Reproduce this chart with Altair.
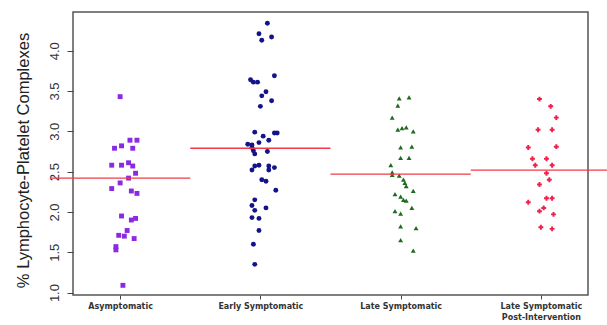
import json

import altair as alt
import pandas as pd

# Categories and their axis labels (multi-line where needed)
groups = ["Asymptomatic", "Early Symptomatic", "Late Symptomatic",
          "Late Symptomatic Post-Intervention"]
tick_labels = [["Asymptomatic"], ["Early Symptomatic"], ["Late Symptomatic"],
               ["Late Symptomatic", "Post-Intervention"]]
y_ticks = [1.0, 1.5, 2.0, 2.5, 3.0, 3.5, 4.0]

# % lymphocyte-platelet complexes per subject, with horizontal jitter (category units)
asym_values = [3.43, 2.89, 2.89, 2.82, 2.79, 2.79, 2.58, 2.58, 2.61, 2.57, 2.48, 2.42, 2.36,
               2.29, 2.26, 2.23, 1.95, 1.90, 1.92, 1.77, 1.71, 1.70, 1.67, 1.57, 1.53, 1.09]
asym_jitter = [0.00, 0.07, 0.12, 0.01, -0.04, 0.09, -0.06, 0.01, 0.06, 0.09, 0.11, 0.06, 0.00,
               -0.06, 0.08, 0.12, 0.01, 0.08, 0.11, 0.05, -0.01, 0.03, 0.10, -0.03, -0.03, 0.02]

early_values = [4.34, 4.21, 4.17, 4.13, 3.69, 3.64, 3.61, 3.61, 3.49, 3.44, 3.38, 3.31,
                2.99, 2.94, 2.98, 2.98, 2.89, 2.86, 2.84, 2.83, 2.80, 2.76, 2.72, 2.75,
                2.58, 2.57, 2.52, 2.57, 2.55, 2.52, 2.40, 2.38, 2.27, 2.15, 2.08, 2.02,
                2.05, 1.93, 1.92, 1.77, 1.60, 1.35]
early_jitter = [0.05, -0.01, 0.08, 0.01, 0.10, -0.07, -0.05, -0.02, 0.04, 0.01, 0.08, 0.00,
                -0.04, 0.02, 0.10, 0.12, 0.06, -0.01, -0.09, -0.06, -0.06, -0.05, -0.04, 0.05,
                -0.01, -0.04, -0.06, 0.06, 0.10, 0.06, 0.01, 0.04, 0.11, -0.04, -0.06, -0.04,
                0.04, -0.06, -0.01, -0.01, -0.05, -0.04]

late_values = [3.41, 3.42, 3.32, 3.17, 3.02, 3.04, 3.05, 3.00, 2.80, 2.81, 2.67, 2.67,
               2.58, 2.49, 2.46, 2.45, 2.40, 2.36, 2.32, 2.26, 2.22, 2.19, 2.15, 2.14,
               2.05, 2.01, 1.98, 1.82, 1.80, 1.65, 1.52]
late_jitter = [-0.01, 0.06, -0.02, -0.06, -0.02, 0.01, 0.04, 0.09, 0.00, 0.08, 0.00, 0.06,
               -0.07, -0.06, -0.06, -0.01, 0.02, 0.03, 0.04, 0.09, -0.04, 0.00, 0.02, 0.04,
               0.08, -0.04, 0.00, 0.00, 0.11, 0.00, 0.09]

post_values = [3.40, 3.31, 3.17, 3.02, 3.02, 2.80, 2.81, 2.66, 2.66, 2.58, 2.58, 2.48,
               2.40, 2.34, 2.17, 2.17, 2.12, 2.05, 2.01, 1.97, 1.81, 1.79]
post_jitter = [-0.01, 0.07, 0.11, -0.02, 0.08, -0.09, 0.11, -0.06, 0.04, -0.04, 0.08, 0.04,
               0.06, -0.01, 0.04, 0.08, -0.09, 0.02, -0.01, 0.09, 0.00, 0.08]

# Group summary levels drawn as horizontal red lines
group_levels = [2.42, 2.79, 2.47, 2.52]

series = [(asym_values, asym_jitter), (early_values, early_jitter),
          (late_values, late_jitter), (post_values, post_jitter)]

rows = []
for i, (name, (vals, jit)) in enumerate(zip(groups, series)):
    for v, j in zip(vals, jit):
        rows.append({"group": name, "pos": i + 1 + j, "value": v})
points_df = pd.DataFrame(rows)

levels_df = pd.DataFrame({
    "group": groups,
    "x0": [i + 0.5 for i in range(len(groups))],
    "x1": [i + 1.5 for i in range(len(groups))],
    "level": group_levels,
})

x_scale = alt.Scale(domain=[0.664, 4.336], nice=False, zero=False)
y_scale = alt.Scale(domain=[0.97, 4.48], nice=False, zero=False)

label_expr = json.dumps(tick_labels) + "[datum.value - 1]"

x_axis = alt.Axis(
    values=[1, 2, 3, 4], labelExpr=label_expr, title=None, grid=False, domain=False,
    tickSize=4, tickColor="#444", labelFont="DejaVu Sans", labelFontSize=8,
    labelFontWeight="bold", labelColor="#333", labelPadding=3, labelLineHeight=11,
    labelFlush=False, labelOverlap=False,
)
y_axis = alt.Axis(
    values=y_ticks, format=".1f", title="% Lymphocyte-Platelet Complexes", grid=False,
    domain=False, tickSize=6, tickColor="#444", labelAngle=-90, labelAlign="center",
    labelBaseline="bottom", labelPadding=6, labelFont="Liberation Sans Narrow, Liberation Sans",
    labelFontSize=13, labelColor="#333", labelFlush=False,
    titleFont="Liberation Sans", titleFontSize=16.5, titleFontWeight="normal",
    titleColor="#222", titleAngle=-90, titleX=-50, titleY=148, titleAlign="center",
    titleBaseline="middle",
)

colors = ["#8a2be2", "#14148a", "#1e6b1e", "#f0204a"]
shapes = ["square", "circle", "triangle-up", "cross"]
sizes = [24, 24, 34, 26]

points = alt.Chart(points_df).mark_point(filled=True, opacity=1, strokeWidth=0).encode(
    x=alt.X("pos:Q", scale=x_scale, axis=x_axis),
    y=alt.Y("value:Q", scale=y_scale, axis=y_axis),
    color=alt.Color("group:N", scale=alt.Scale(domain=groups, range=colors), legend=None),
    shape=alt.Shape("group:N", scale=alt.Scale(domain=groups, range=shapes), legend=None),
    size=alt.Size("group:N", scale=alt.Scale(domain=groups, range=sizes), legend=None),
)

lines = alt.Chart(levels_df).mark_rule(color="#f23a48", strokeWidth=1.3).encode(
    x=alt.X("x0:Q", scale=x_scale),
    x2="x1:Q",
    y=alt.Y("level:Q", scale=y_scale),
)

chart = alt.layer(points, lines).properties(
    width=515,
    height=283,
    autosize=alt.AutoSizeParams(type="none"),
    padding={"left": 73, "top": 12, "right": 19, "bottom": 30},
    background="white",
).configure_view(stroke="#555", strokeWidth=1.5)

chart.save("out.html", embed_options={"renderer": "svg", "actions": False})
